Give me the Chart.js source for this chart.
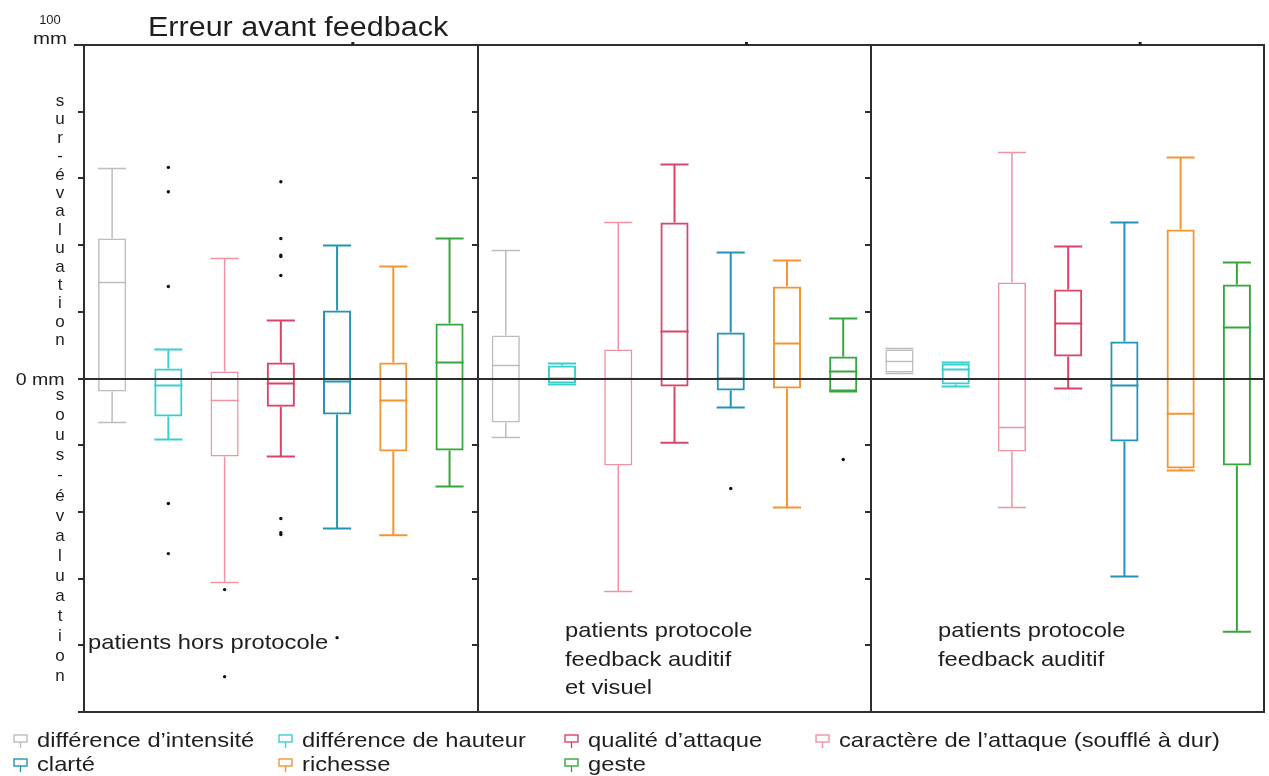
<!DOCTYPE html>
<html lang="fr">
<head>
<meta charset="utf-8">
<title>Erreur avant feedback</title>
<script src="https://cdn.jsdelivr.net/npm/chart.js@4.4.1/dist/chart.umd.min.js"></script>
<style>
  html, body { margin: 0; padding: 0; background: #fff; }
  #wrap { position: relative; width: 1269px; height: 776px; overflow: hidden;
          font-family: 'Liberation Sans', Arial, Helvetica, sans-serif; color: #1e1e1e; }
  #chart { position: absolute; left: 0; top: 0; }
  .wide { position: absolute; white-space: nowrap; line-height: 1;
          transform-origin: left center; transform: scaleX(1.13); }
  #title { left: 148px; top: 14px; font-size: 27px; }
  .panel-label { position: absolute; font-size: 21px; line-height: 28.5px; white-space: pre;
                 transform-origin: left top; transform: scaleX(1.13); }
  .axis-note { position: absolute; line-height: 1; white-space: nowrap; }
  .letter { position: absolute; left: 50px; width: 20px; text-align: center; font-size: 17px; line-height: 1; }
  .legend-item { position: absolute; height: 24px; }
  .legend-item svg { position: absolute; left: 0; top: 5px; }
  .legend-item span { position: absolute; left: 24px; top: 0; font-size: 21px; line-height: 1; white-space: nowrap;
                      transform-origin: left center; transform: scaleX(1.13); }
</style>
</head>
<body>
<div id="wrap">
  <canvas id="chart" width="1269" height="776"></canvas>
  <div id="title" class="wide">Erreur avant feedback</div>
  <div class="axis-note" style="left:20px; width:60px; top:13px; font-size:13px; text-align:center;">100</div>
  <div class="axis-note" style="left:20px; width:60px; top:30px; font-size:17px; text-align:center; transform:scaleX(1.2);">mm</div>
  <div class="axis-note" style="right:1205px; top:371px; font-size:17px; transform-origin:right center; transform:scaleX(1.15);">0 mm</div>
  <div id="letters"></div>
  <div id="panel-labels"></div>
  <div id="legend"></div>
</div>

<script>
// Panels (groups of patients) and the rated criteria, in box order
const panels = ['patients hors protocole', 'patients protocole\nfeedback auditif\net visuel', 'patients protocole\nfeedback auditif'];
const series = ['différence d’intensité', 'différence de hauteur', 'caractère de l’attaque (soufflé à dur)',
                'qualité d’attaque', 'clarté', 'richesse', 'geste'];

// one value per box: 7 criteria for panel 1, then panel 2, then panel 3 (mm)
const whiskerLow  = [-13.2, -18.3, -61.2, -23.4, -45.0, -47.0, -32.4,
                     -17.7,  -1.8, -63.9, -19.3,  -8.7, -38.7,  -3.9,
                       1.5,  -2.4, -38.7,  -3.0, -59.4, -27.6, -75.9];
const quartile1   = [ -3.9, -11.4, -23.4,  -8.5, -10.8, -21.9, -21.6,
                     -13.2,  -1.5, -26.1,  -2.4,  -3.6,  -3.0,  -3.9,
                       1.8,  -1.8, -21.9,   6.6, -18.9, -27.0, -26.1];
const medians     = [ 28.8,  -2.1,  -6.6,  -1.5,  -0.9,  -6.6,   4.8,
                       3.9,   0.0,   0.0,  14.1,   0.0,  10.5,   2.1,
                       5.1,   2.7, -14.7,  16.5,  -2.1, -10.6,  15.3];
const quartile3   = [ 42.0,   3.0,   2.1,   4.8,  20.4,   4.8,  16.5,
                      12.9,   3.9,   8.7,  46.8,  13.8,  27.6,   6.6,
                       8.7,   4.5,  28.8,  26.7,  11.1,  44.7,  28.2];
const whiskerHigh = [ 63.0,   8.7,  36.0,  17.4,  39.9,  33.6,  42.0,
                      38.4,   4.5,  46.8,  64.2,  37.8,  35.4,  18.0,
                       9.0,   4.8,  67.8,  39.6,  46.8,  66.3,  34.8];

// outliers: box index and value
const outlierBox   = [1, 1, 1, 1, 1, 2, 2, 3, 3, 3, 3, 3, 3, 3, 3, 4, 11, 13];
const outlierValue = [63.3, 56.0, 27.6, -37.5, -52.5, -63.3, -89.4, 59.0, 42.0, 37.0, 36.6, 30.9,
                      -42.0, -46.2, -46.8, -77.7, -33.0, -24.3];

const yTicks = [-100, -80, -60, -40, -20, 0, 20, 40, 60, 80, 100];

// styles
const seriesColors = ['#bdbdbd', '#38d0cf', '#ee93a2', '#dc4467', '#2394b6', '#f39533', '#37a63f'];
const seriesLineWidths = [1.5, 2, 1.5, 2, 2, 2, 2];
const legendRows = [[0, 1, 3, 2], [4, 5, 6]];
const legendCols = [13, 278, 564, 815];
const legendTops = [729, 753];
const panelLabelPos = [[88, 628], [565, 616], [938, 616]];
const topMarkOffset = 4.28;

const boxColors = panels.flatMap(() => seriesColors);
const boxWidths = panels.flatMap(() => seriesLineWidths);
const perPanel = series.length;

// Whiskers, caps and medians, drawn through the chart's scales
const whiskerPlugin = {
    id: 'whiskers',
    afterDatasetsDraw(chart) {
        const { ctx, scales: { y } } = chart;
        const bars = chart.getDatasetMeta(0).data;
        ctx.save();
        bars.forEach((bar, i) => {
            const left = bar.x - bar.width / 2;
            const right = bar.x + bar.width / 2;
            const yLow = y.getPixelForValue(whiskerLow[i]);
            const yQ1 = y.getPixelForValue(quartile1[i]);
            const yMed = y.getPixelForValue(medians[i]);
            const yQ3 = y.getPixelForValue(quartile3[i]);
            const yHigh = y.getPixelForValue(whiskerHigh[i]);
            ctx.strokeStyle = boxColors[i];
            ctx.lineWidth = boxWidths[i];
            ctx.beginPath();
            ctx.moveTo(bar.x, yQ3); ctx.lineTo(bar.x, yHigh);
            ctx.moveTo(left, yHigh); ctx.lineTo(right, yHigh);
            ctx.moveTo(bar.x, yQ1); ctx.lineTo(bar.x, yLow);
            ctx.moveTo(left, yLow); ctx.lineTo(right, yLow);
            ctx.moveTo(left, yMed); ctx.lineTo(right, yMed);
            ctx.stroke();
        });
        ctx.restore();
    }
};

// Panel frames, ticks and zero line
const framePlugin = {
    id: 'frame',
    afterDatasetsDraw(chart) {
        const { ctx, chartArea: a, scales: { x, y } } = chart;
        ctx.save();
        ctx.strokeStyle = '#2e2e2e';
        ctx.lineWidth = 2;
        ctx.beginPath();
        panels.forEach((p, k) => {
            const px = Math.round(x.getPixelForValue(k * perPanel - 0.5));
            ctx.moveTo(px, a.top); ctx.lineTo(px, a.bottom);
            yTicks.forEach(t => {
                const ty = Math.round(y.getPixelForValue(t));
                ctx.moveTo(px - 6, ty); ctx.lineTo(px, ty);
            });
        });
        ctx.moveTo(a.right - 1, a.top); ctx.lineTo(a.right - 1, a.bottom);
        ctx.moveTo(a.left - 10, a.top); ctx.lineTo(a.right, a.top);
        ctx.moveTo(a.left - 6, a.bottom); ctx.lineTo(a.right, a.bottom);
        const y0 = Math.round(y.getPixelForValue(0));
        ctx.moveTo(a.left - 6, y0); ctx.lineTo(a.right, y0);
        ctx.stroke();
        ctx.fillStyle = '#222';
        panels.forEach((p, k) => {
            const mx = x.getPixelForValue(k * perPanel + topMarkOffset);
            ctx.fillRect(mx - 1.5, a.top - 3, 3, 3);
        });
        ctx.restore();
    }
};

const boxData = quartile1.map((q, i) => ({ x: i, y: [q, quartile3[i]] }));
const outlierData = outlierBox.map((b, i) => ({ x: b, y: outlierValue[i] }));

new Chart(document.getElementById('chart'), {
    type: 'bar',
    data: {
        datasets: [{
            type: 'bar',
            data: boxData,
            backgroundColor: 'rgba(0,0,0,0)',
            borderColor: boxColors,
            borderWidth: boxWidths,
            borderSkipped: false,
            barPercentage: 0.5,
            categoryPercentage: 1
        }, {
            type: 'scatter',
            data: outlierData,
            pointRadius: 1.7,
            pointBackgroundColor: '#111',
            pointBorderWidth: 0
        }]
    },
    options: {
        responsive: false,
        animation: false,
        events: [],
        layout: { padding: { left: 84, top: 45, right: 2, bottom: 64 } },
        scales: {
            x: { type: 'linear', min: -0.5, max: 20.5, offset: false, display: false, ticks: { stepSize: 1 } },
            y: { min: -100, max: 100, display: false }
        },
        plugins: { legend: { display: false }, tooltip: { enabled: false } }
    },
    plugins: [whiskerPlugin, framePlugin]
});

// vertical axis words
const letters = document.getElementById('letters');
function placeWord(word, start, step) {
    [...word].forEach((ch, i) => {
        const el = document.createElement('div');
        el.className = 'letter';
        el.textContent = ch;
        el.style.top = (start + i * step - 10) + 'px';
        letters.appendChild(el);
    });
}
placeWord('sur-évaluation', 102, 18.4);
placeWord('sous-évaluation', 396, 20.1);

// panel labels
const labelBox = document.getElementById('panel-labels');
panels.forEach((text, k) => {
    const el = document.createElement('div');
    el.className = 'panel-label';
    el.textContent = text;
    el.style.left = panelLabelPos[k][0] + 'px';
    el.style.top = panelLabelPos[k][1] + 'px';
    labelBox.appendChild(el);
});

// legend
const legend = document.getElementById('legend');
legendRows.forEach((row, r) => {
    row.forEach((s, c) => {
        const item = document.createElement('div');
        item.className = 'legend-item';
        item.style.left = legendCols[c] + 'px';
        item.style.top = legendTops[r] + 'px';
        const col = seriesColors[s];
        item.innerHTML = '<svg width="16" height="14"><rect x="1" y="1" width="13" height="7" fill="none" stroke="' + col +
            '" stroke-width="1.4"/><line x1="7.5" y1="8" x2="7.5" y2="14" stroke="' + col + '" stroke-width="1.4"/></svg>';
        const span = document.createElement('span');
        span.textContent = series[s];
        item.appendChild(span);
        legend.appendChild(item);
    });
});
</script>
</body>
</html>
